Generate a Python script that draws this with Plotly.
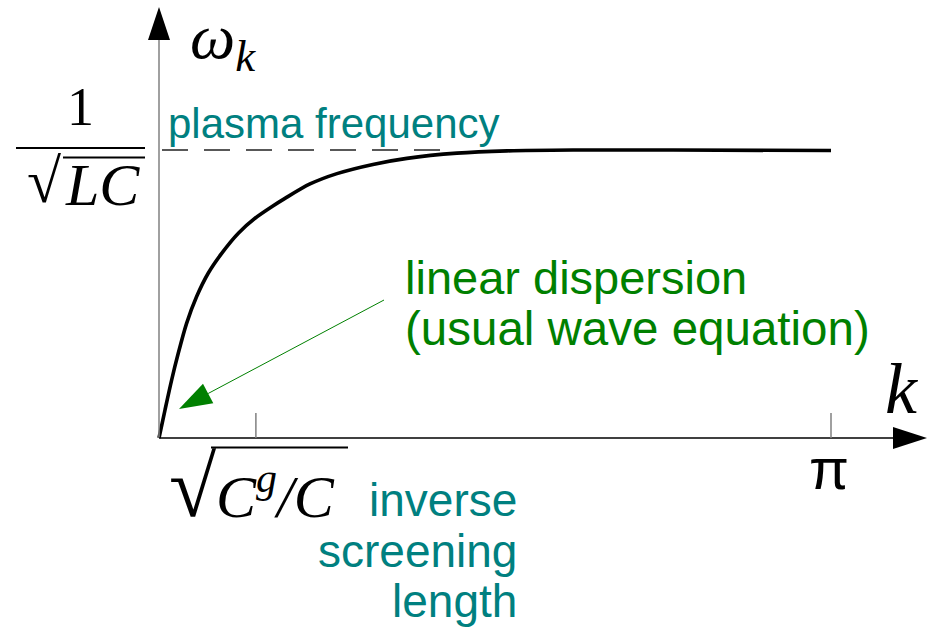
import math
import plotly.graph_objects as go

# ---- data (k in radians, omega in units of the plasma frequency 1/sqrt(LC)) ----
k_values = [0.0, 0.028, 0.059, 0.090, 0.129, 0.176, 0.230, 0.293, 0.371, 0.449,
            0.527, 0.589, 0.706, 0.832, 1.000, 1.159, 1.393, 1.627, 1.936, 2.403, 3.1416]
omega_values = [0.0, 0.097, 0.201, 0.294, 0.398, 0.491, 0.572, 0.641, 0.711, 0.763,
                0.803, 0.832, 0.882, 0.918, 0.950, 0.971, 0.989, 0.997, 1.000, 1.000, 0.998]
k_screen = 0.453          # sqrt(C^g/C) tick
k_max = math.pi           # pi tick
omega_plasma = 1.0        # 1/sqrt(LC)

W, H = 935, 631
X_RANGE = [-0.7433, 3.6278]
Y_RANGE = [-0.6701, 1.5208]
SX = (X_RANGE[1] - X_RANGE[0]) / W   # data per pixel
SY = (Y_RANGE[1] - Y_RANGE[0]) / H


def X(px):
    return X_RANGE[0] + px * SX


def Y(py):
    return Y_RANGE[1] - py * SY


def paper(px, py):
    return px / W, 1 - py / H


TEAL = "#008080"
GREEN = "#008000"
SERIF = "Liberation Serif, Times New Roman, serif"
SANS = "Liberation Sans, Arial, sans-serif"

fig = go.Figure()
fig.add_trace(go.Scatter(x=k_values, y=omega_values, mode="lines",
                         line=dict(color="black", width=3.6, shape="spline", smoothing=0.8),
                         hoverinfo="skip"))

shapes = []
# axes
y_top = Y(40)
shapes.append(dict(type="line", x0=0, y0=0, x1=0, y1=y_top,
                   line=dict(color="#808080", width=1.5)))
shapes.append(dict(type="path", fillcolor="black", line=dict(width=0),
                   path=f"M {-11*SX},{y_top} L {11*SX},{y_top} L 0,{Y(7)} Z"))
x_end = X(893)
shapes.append(dict(type="line", x0=0, y0=0, x1=x_end, y1=0,
                   line=dict(color="black", width=1.5)))
shapes.append(dict(type="path", fillcolor="black", line=dict(width=0),
                   path=f"M {x_end},{-11*SY} L {x_end},{11*SY} L {X(927)},0 Z"))
# ticks
for kt in (k_screen, k_max):
    shapes.append(dict(type="line", x0=kt, y0=0, x1=kt, y1=25 * SY,
                       line=dict(color="#808080", width=1.5)))
# plasma frequency dashed line
shapes.append(dict(type="line", x0=X(162), y0=omega_plasma, x1=X(443), y1=omega_plasma,
                   line=dict(color="#222222", width=1.3, dash="26px,16px")))
# green arrow
tip = (179, 409)
start = (384, 300)
vx, vy = start[0] - tip[0], start[1] - tip[1]
L = math.hypot(vx, vy)
ux, uy = vx / L, vy / L
hl, hw = 33, 11
bc = (tip[0] + hl * ux, tip[1] + hl * uy)
c1 = (bc[0] - hw * uy, bc[1] + hw * ux)
c2 = (bc[0] + hw * uy, bc[1] - hw * ux)
shapes.append(dict(type="line", x0=X(start[0]), y0=Y(start[1]), x1=X(bc[0]), y1=Y(bc[1]),
                   line=dict(color=GREEN, width=1)))
shapes.append(dict(type="path", fillcolor=GREEN, line=dict(width=0),
                   path=f"M {X(tip[0])},{Y(tip[1])} L {X(c1[0])},{Y(c1[1])} L {X(c2[0])},{Y(c2[1])} Z"))
# fraction bar and radical overbars (paper coords)
for (x0, y0, x1, y1) in [(16, 148, 145, 148), (63, 157.5, 145, 157.5), (211, 447.5, 348, 447.5)]:
    a0 = paper(x0, y0)
    a1 = paper(x1, y1)
    shapes.append(dict(type="line", xref="paper", yref="paper", x0=a0[0], y0=a0[1],
                       x1=a1[0], y1=a1[1], line=dict(color="black", width=2)))

annotations = []


def note(text, px, py, size, color="black", family=SERIF, xanchor="center"):
    ax, ay = paper(px, py)
    annotations.append(dict(text=text, xref="paper", yref="paper", x=ax, y=ay,
                            xanchor=xanchor, yanchor="middle", showarrow=False,
                            font=dict(size=size, color=color, family=family)))


note("<i>ω<sub>k</sub></i>", 188, 41, 64, xanchor="left")
note("1", 80, 107, 54)
note("√", 44, 181, 62)
note("<i>LC</i>", 63, 185, 60, xanchor="left")
note("plasma frequency", 166, 123, 42, color=TEAL, family=SANS, xanchor="left")
note("linear dispersion", 403, 277, 47, color=GREEN, family=SANS, xanchor="left")
note("(usual wave equation)", 403, 329, 47.5, color=GREEN, family=SANS, xanchor="left")
note("<i>k</i>", 902, 389, 72)
note("π", 829, 468, 58, family=SANS)
note("√", 193, 487, 86)
note("<i>C<sup>g</sup>/C</i>", 214, 492, 60, xanchor="left")
note("inverse", 519, 500, 46, color=TEAL, family=SANS, xanchor="right")
note("screening", 519, 551, 46, color=TEAL, family=SANS, xanchor="right")
note("length", 519, 601, 46, color=TEAL, family=SANS, xanchor="right")

fig.update_layout(
    width=W, height=H, autosize=False,
    margin=dict(l=0, r=0, t=0, b=0),
    paper_bgcolor="white", plot_bgcolor="white",
    showlegend=False,
    xaxis=dict(range=X_RANGE, visible=False, fixedrange=True),
    yaxis=dict(range=Y_RANGE, visible=False, fixedrange=True),
    shapes=shapes, annotations=annotations,
)
fig.write_html("out.html")
